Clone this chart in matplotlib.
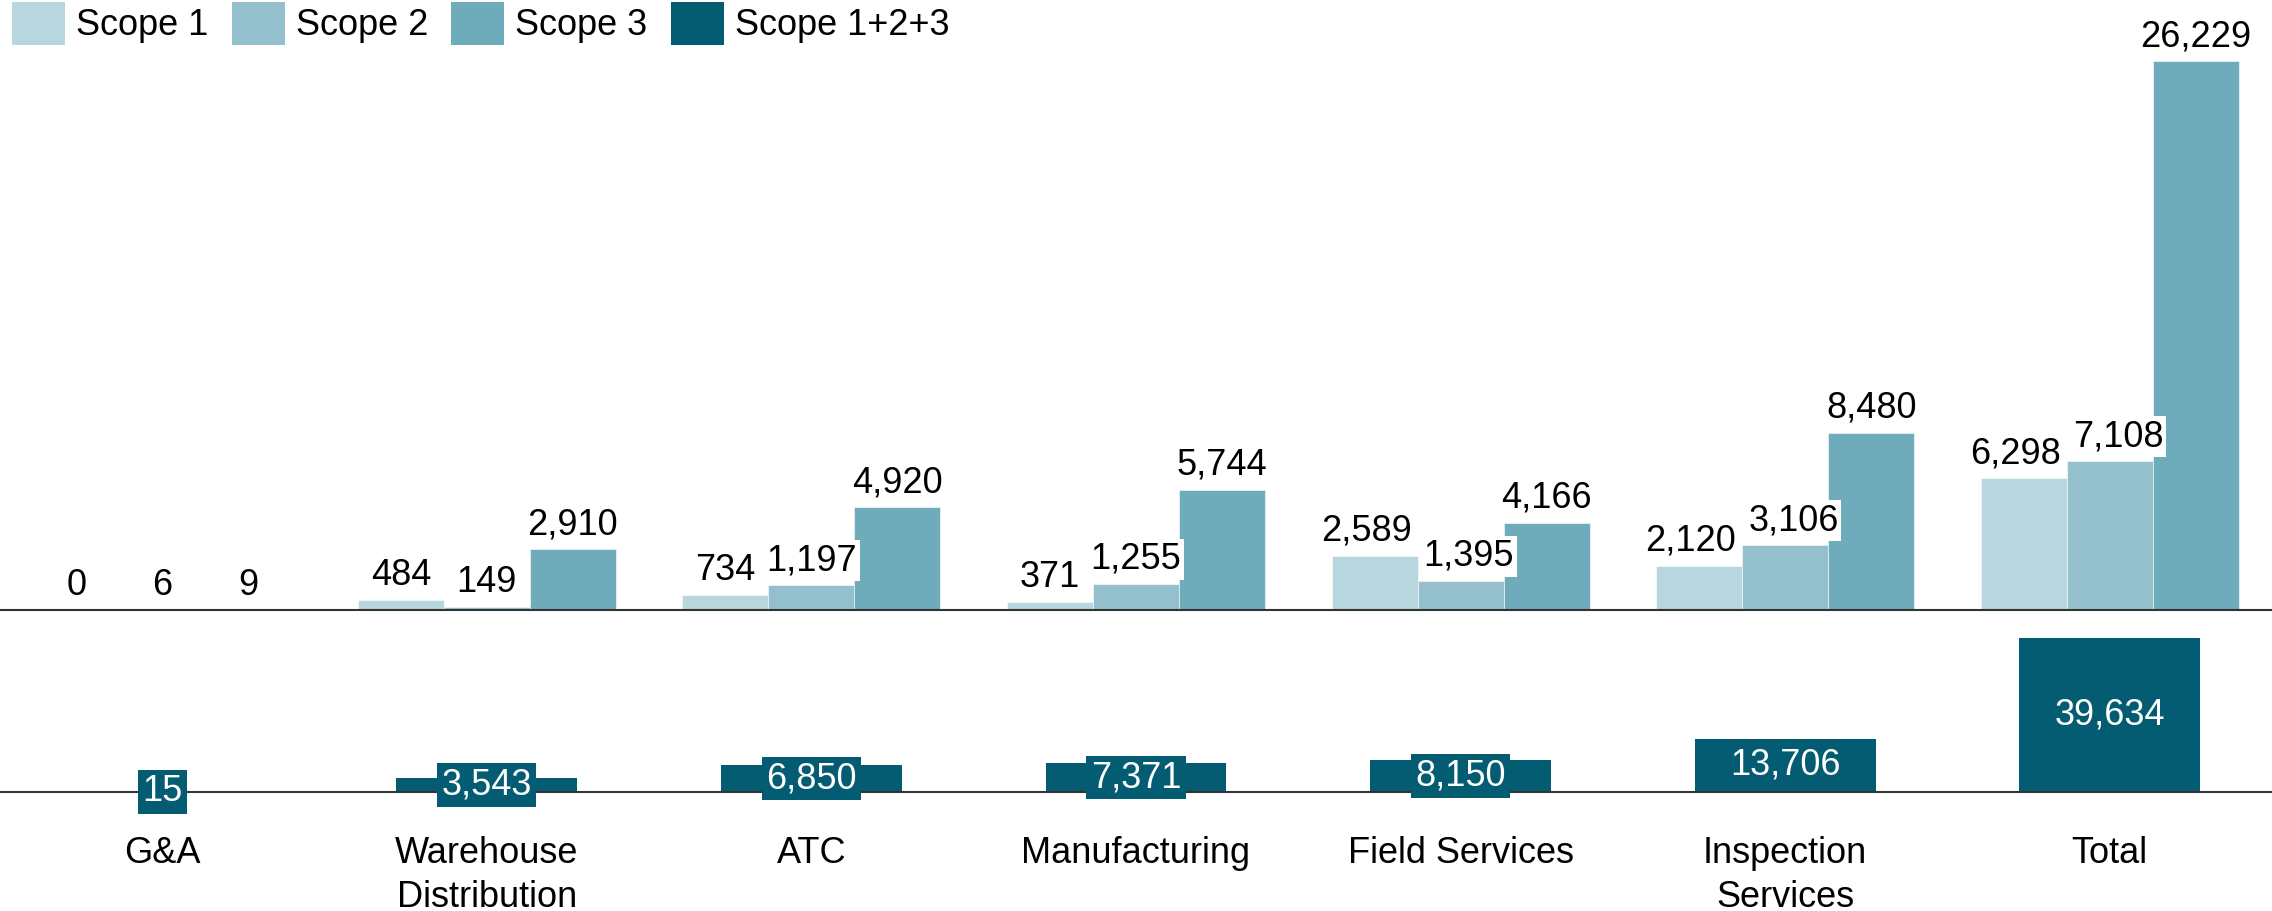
import numpy as np
import matplotlib.pyplot as plt
from matplotlib.patches import Patch
from matplotlib.text import Text

plt.rcParams['font.family'] = ['Liberation Sans', 'DejaVu Sans']

# Data
categories = ['G&A', 'Warehouse\nDistribution', 'ATC', 'Manufacturing',
              'Field Services', 'Inspection\nServices', 'Total']
scope1 = [0, 484, 734, 371, 2589, 2120, 6298]
scope2 = [6, 149, 1197, 1255, 1395, 3106, 7108]
scope3 = [9, 2910, 4920, 5744, 4166, 8480, 26229]
scope_total = [15, 3543, 6850, 7371, 8150, 13706, 39634]

series_names = ['Scope 1', 'Scope 2', 'Scope 3', 'Scope 1+2+3']
colors = ['#b7d6de', '#93c0cc', '#6eabbb', '#035c72']

fs = 26
x = np.arange(len(categories))
w = 0.265

fig = plt.figure(figsize=(22.72, 9.11), dpi=100)
ax_top = fig.add_axes([0, 1 - 610 / 911, 1, 560 / 911])
ax_bot = fig.add_axes([0, 1 - 792 / 911, 1, 162 / 911])

# top panel: scope 1, 2, 3
bars = []
for k, vals in enumerate([scope1, scope2, scope3]):
    b = ax_top.bar(x + (k - 1) * w, vals, w, color=colors[k],
                   edgecolor='white', linewidth=0.4)
    bars.append(b)
labs = []
for b in bars:
    labs.append(ax_top.bar_label(b, labels=[f'{v:,}' for v in b.datavalues],
                                 padding=5, fontsize=fs,
                                 bbox=dict(facecolor='white', edgecolor='none', pad=2)))
ax_top.set_ylim(0, 26229 * 560 / 549)

# bottom panel: total of scopes
b = ax_bot.bar(x, scope_total, 0.557, color=colors[3])
ax_bot.bar_label(b, labels=[f'{v:,}' for v in scope_total], label_type='center',
                 fontsize=fs, color='white',
                 bbox=dict(facecolor=colors[3], edgecolor='none', pad=3))
ax_bot.set_ylim(0, 39634 * 162 / 154.5)

for ax in (ax_top, ax_bot):
    ax.set_xlim(-0.5, len(categories) - 0.5)
    for s in ['top', 'left', 'right']:
        ax.spines[s].set_visible(False)
    ax.spines['bottom'].set_color('#333333')
    ax.spines['bottom'].set_linewidth(1.5)
    ax.set_yticks([])
    ax.patch.set_alpha(0)

ax_top.set_xticks([])
ax_bot.set_xticks(x)
ax_bot.set_xticklabels(categories, fontsize=fs, linespacing=1.3)
ax_bot.tick_params(axis='x', length=0, pad=32)

handles = [Patch(facecolor=c, edgecolor='none') for c in colors]
fig.legend(handles, series_names, loc='upper left', bbox_to_anchor=(12 / 2272, 1 - 2 / 911),
           ncol=4, frameon=False, fontsize=fs, handlelength=1.47, handleheight=1.45,
           handletextpad=0.3, columnspacing=0.65, borderpad=0, borderaxespad=0)

# push apart value labels that collide inside a group
fig.canvas.draw()
r = fig.canvas.get_renderer()
px2pt = 72 / fig.dpi
gap = 12
for i in range(len(categories)):
    group = [labs[k][i] for k in range(3)]
    for a, c in [(0, 1), (1, 2)]:
        ea = Text.get_window_extent(group[a], r)
        ec = Text.get_window_extent(group[c], r)
        if ea.x1 > ec.x0 + 3 and ea.y0 < ec.y1 and ec.y0 < ea.y1:
            d = (ea.x1 - ec.x0 + gap) / 2 * px2pt
            dx, dy = group[a].xyann
            group[a].xyann = (dx - d, dy)
            dx, dy = group[c].xyann
            group[c].xyann = (dx + d, dy)
            fig.canvas.draw()

fig.savefig('out.png', dpi=100)
